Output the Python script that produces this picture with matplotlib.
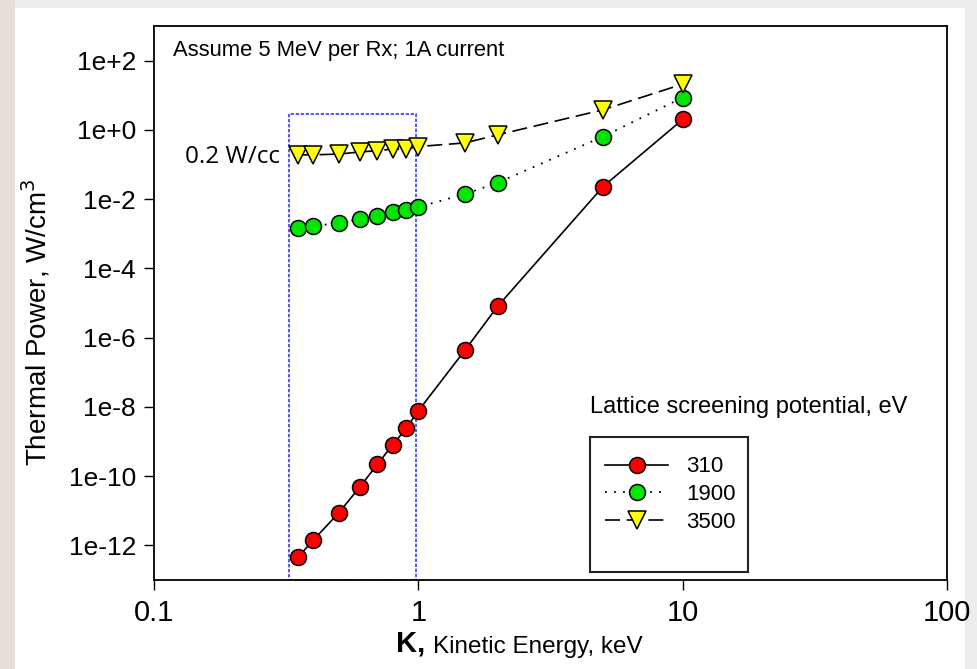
import matplotlib
matplotlib.use("Agg")
import matplotlib.pyplot as plt
from matplotlib.patches import Rectangle

plt.rcParams['font.family'] = ['Liberation Sans', 'DejaVu Sans']

# kinetic energy, keV
energy = [0.35, 0.4, 0.5, 0.6, 0.7, 0.8, 0.9, 1.0, 1.5, 2.0, 5.0, 10.0]

# thermal power (W/cm^3) for each lattice screening potential
power_310 = [4.5e-13, 1.4e-12, 8.7e-12, 4.8e-11, 2.2e-10, 8.0e-10, 2.4e-9,
             7.7e-9, 4.3e-7, 8.2e-6, 0.023, 2.0]
power_1900 = [1.5e-3, 1.7e-3, 2.0e-3, 2.7e-3, 3.3e-3, 4.3e-3, 4.8e-3,
              5.9e-3, 0.014, 0.030, 0.64, 8.6]
power_3500 = [0.19, 0.19, 0.20, 0.23, 0.25, 0.28, 0.28, 0.33, 0.42, 0.72,
              3.8, 21.0]

series_labels = ['310', '1900', '3500']

yticks = [1e-12, 1e-10, 1e-8, 1e-6, 1e-4, 1e-2, 1e0, 1e2]
ytick_labels = ['1e-12', '1e-10', '1e-8', '1e-6', '1e-4', '1e-2', '1e+0', '1e+2']
xticks = [0.1, 1, 10, 100]
xtick_labels = ['0.1', '1', '10', '100']

fig = plt.figure(figsize=(9.77, 6.69), dpi=100)
fig.patch.set_facecolor('#ececec')
# white slide area, faded strip along the left
fig.patches.append(Rectangle((0, 0), 15 / 977, 1, transform=fig.transFigure,
                             facecolor='#e6dedb', edgecolor='none', zorder=-2))
fig.patches.append(Rectangle((15 / 977, 0), 950 / 977, 1 - 8 / 669,
                             transform=fig.transFigure, facecolor='white',
                             edgecolor='none', zorder=-1))

ax = fig.add_axes([154 / 977, 89 / 669, 793 / 977, 554 / 669])
ax.set_xscale('log')
ax.set_yscale('log')
ax.set_xlim(0.1, 100)
ax.set_ylim(1e-13, 1e3)

ax.plot(energy, power_310, color='black', lw=1.2, ls='-', marker='o',
        ms=11.5, mfc='#ff0000', mec='black', mew=1.1, label=series_labels[0], zorder=3)
ax.plot(energy, power_1900, color='black', lw=1.3, ls=(0, (1, 4)), marker='o',
        ms=11.5, mfc='#00e600', mec='black', mew=1.1, label=series_labels[1], zorder=3)
ax.plot(energy, power_3500, color='black', lw=1.2, ls=(0, (9, 4)), marker='v',
        ms=12.5, mfc='#ffff00', mec='black', mew=1.1, label=series_labels[2], zorder=3)

# region of interest box
ax.add_patch(Rectangle((0.323, 1e-13), 0.98 - 0.323, 2.9 - 1e-13,
                       fill=False, edgecolor='#3a3aff', lw=1.2,
                       ls=(0, (2, 1)), zorder=2))

ax.set_xticks(xticks)
ax.set_xticklabels(xtick_labels)
ax.set_yticks(yticks)
ax.set_yticklabels(ytick_labels)
ax.minorticks_off()
ax.tick_params(axis='both', direction='out', length=7, width=1, pad=6)
ax.tick_params(axis='x', labelsize=21, pad=7)
ax.tick_params(axis='y', labelsize=19)
for s in ax.spines.values():
    s.set_linewidth(1.3)

ax.text(0.024, 0.955, 'Assume 5 MeV per Rx; 1A current', transform=ax.transAxes,
        fontsize=15.8, va='center', ha='left')
ax.text(0.3, 0.17, '0.2 W/cc', fontsize=17.5, va='center', ha='right',
        family=['Open Sans', 'DejaVu Sans'])
ax.text(0.55, 0.312, 'Lattice screening potential, eV', transform=ax.transAxes,
        fontsize=17, va='center', ha='left')

# legend frame drawn separately so it can extend below the entries
ax.add_patch(Rectangle((0.5498, 0.0144), 0.199, 0.2437, transform=ax.transAxes,
                       fill=False, edgecolor='#222222', lw=1.5, zorder=4))
ax.legend(loc='upper left', bbox_to_anchor=(0.5687, 0.223), frameon=False,
          fontsize=16, handlelength=2.85, handletextpad=0.8, labelspacing=0.3,
          borderpad=0, borderaxespad=0)

ax.set_ylabel('Thermal Power, W/cm$^3$', fontsize=20)
ax.yaxis.set_label_coords(-0.1286, 0.466)
fig.text(396 / 977, 1 - 644 / 669, 'K,', fontsize=21, fontweight='bold',
         ha='left', va='center')
fig.text(433 / 977, 1 - 647 / 669, 'Kinetic Energy, keV', fontsize=17.5,
         ha='left', va='center')

fig.savefig('out.png', dpi=100, facecolor=fig.get_facecolor())
